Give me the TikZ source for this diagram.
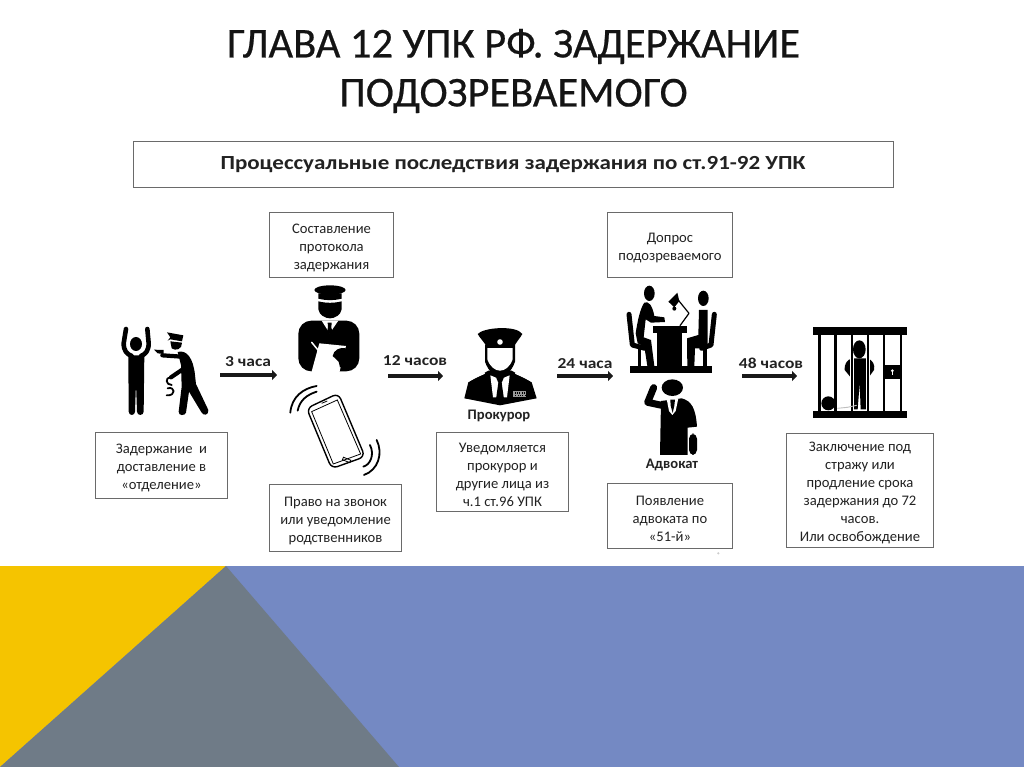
\documentclass[tikz,border=0pt]{standalone}
\usepackage{fontspec}
\setmainfont{Carlito}
\newfontfamily\titlefont{Carlito}[FakeBold=0.5]
\newfontfamily\widefont{Carlito}[FakeStretch=1.15]
\usetikzlibrary{arrows.meta}
\definecolor{ybg}{HTML}{F5C400}
\definecolor{gbg}{HTML}{6F7B87}
\definecolor{bbg}{HTML}{7489C3}
\definecolor{txt}{HTML}{222222}
\definecolor{boxc}{HTML}{6A6A6A}
\tikzset{
  x=1pt,y=-1pt,
  infobox/.style={draw=boxc,line width=1pt,fill=white,text=txt,align=center,inner sep=0pt,font=\fontsize{14.6}{18}\selectfont},
  flow/.style={line width=4.4pt,-{Triangle[length=5pt,width=10pt]},draw=black!90},
  flowlabel/.style={font=\widefont\fontsize{15.2}{18}\selectfont\bfseries,text=txt,inner sep=0pt},
  caption/.style={font=\fontsize{14.6}{18}\selectfont\bfseries,text=txt,inner sep=0pt},
  ink/.style={fill=black,draw=none},
  paper/.style={fill=white,draw=none},
  limb/.style={draw=black,line cap=round,line join=round},
  gapline/.style={draw=white,line cap=round},
  icon/.style={x=0.3333pt,y=-0.3333pt},
}
\newcommand{\bbox}[6]{\node[infobox,minimum width=#4-#2,minimum height=#5-#3,anchor=north west] (#1) at (#2,#3) {\rule{0pt}{15pt}#6};}
\begin{document}
\begin{tikzpicture}
\useasboundingbox (0,0) rectangle (1024,767);
\fill[white] (0,0) rectangle (1024,767);
% background
\fill[bbg] (0,566) rectangle (1024,767);
\fill[ybg] (0,566) -- (226,566) -- (0,767) -- cycle;
\fill[gbg] (226,566) -- (399,767) -- (0,767) -- cycle;
% title
\node[font=\titlefont\fontsize{42.5}{49}\selectfont,text=black!92,align=center,inner sep=0pt] (title) at (513.5,71) {ГЛАВА 12 УПК РФ. ЗАДЕРЖАНИЕ\\ПОДОЗРЕВАЕМОГО};
% header
\node[draw=boxc,line width=1pt,fill=white,minimum width=760,minimum height=46,inner sep=0pt,font=\widefont\fontsize{20}{22}\selectfont\bfseries,text=txt] (head) at (513,165) {\raisebox{3pt}{Процессуальные последствия задержания по ст.91-92 УПК}};
% boxes
\bbox{protocol}{269}{212}{393}{277}{Составление\\протокола\\задержания}
\bbox{detain}{95}{432}{227}{498}{Задержание\ \ и\\доставление в\\«отделение»}
\bbox{call}{269}{484}{401}{551}{Право на звонок\\или уведомление\\родственников}
\bbox{notify}{436}{432}{568}{511}{Уведомляется\\прокурор и\\другие лица из\\ч.1 ст.96 УПК}
\bbox{question}{607}{212}{732}{277}{Допрос\\подозреваемого}
\bbox{lawyer}{607}{483}{732}{548}{Появление\\адвоката по\\«51-й»}
\bbox{jailbox}{786}{433}{933}{547}{Заключение под\\стражу или\\продление срока\\задержания до 72\\часов.\\Или освобождение}
% arrows
\coordinate (a1s) at (220,375); \coordinate (a1e) at (277,375);
\coordinate (a2s) at (388,376); \coordinate (a2e) at (443,376);
\coordinate (a3s) at (557,376); \coordinate (a3e) at (613,376);
\coordinate (a4s) at (742,376); \coordinate (a4e) at (797,376);
\draw[flow] (a1s) -- (a1e);
\draw[flow] (a2s) -- (a2e);
\draw[flow] (a3s) -- (a3e);
\draw[flow] (a4s) -- (a4e);
\node[flowlabel] (l1) at (248,362) {3 часа};
\node[flowlabel] (l2) at (415,361) {12 часов};
\node[flowlabel] (l3) at (585,364) {24 часа};
\node[flowlabel] (l4) at (771,363) {48 часов};
\node[caption] (prok) at (499,416) {Прокурор};
\node[caption] (adv) at (672,465) {Адвокат};

% suspect and arresting officer
\begin{scope}[shift={(115,320)},icon]
  \fill[ink] (63,72) ellipse (18 and 21);
  \draw[limb,line width=4.6pt] (33,27) -- (26,70) .. controls (26,92) and (35,102) .. (50,108);
  \draw[limb,line width=4.6pt] (97,27) -- (101,70) .. controls (101,92) and (92,102) .. (78,108);
  \fill[ink] (40,106) -- (88,106) -- (86,275) .. controls (86,288) and (66,288) .. (66,275) -- (63,190) -- (60,275) .. controls (60,288) and (41,288) .. (41,275) -- cycle;
  % cop
  \fill[ink] (156,37) -- (205,46) -- (201,64) -- (166,58) -- (158,62) -- (166,52) -- cycle;
  \fill[ink] (166,64) -- (201,68) .. controls (202,88) and (182,94) .. (170,85) -- cycle;
  \fill[ink] (117,89) -- (146,90) -- (146,102) -- (128,100) -- (124,96) -- cycle;
  \draw[limb,line width=4.2pt] (142,106) -- (200,110);
  \fill[ink] (188,96) .. controls (215,88) and (235,115) .. (240,165) -- (243,192) -- (280,270) .. controls (282,286) and (265,288) .. (260,278) -- (222,215) -- (213,278) .. controls (210,288) and (190,288) .. (191,275) -- (200,200) -- (198,135) -- cycle;
  \draw[limb,line width=4.2pt] (212,142) -- (168,172);
  \draw[limb,line width=1.8pt] (166,172) .. controls (150,172) and (152,195) .. (170,195);
  \draw[limb,line width=1.8pt] (158,205) .. controls (180,198) and (185,228) .. (155,226);
\end{scope}

% clerk officer
\begin{scope}[shift={(290,280)},icon]
  \fill[ink] (120,30) ellipse (47 and 14);
  \fill[ink] (85,40) -- (155,40) -- (155,56) .. controls (130,62) and (110,62) .. (85,56) -- cycle;
  \fill[ink] (85,64) .. controls (110,70) and (130,70) .. (155,64) -- (155,88) .. controls (152,105) and (135,115) .. (120,115) .. controls (105,115) and (88,105) .. (85,88) -- cycle;
  \fill[ink,rounded corners=13pt] (25,122) rectangle (208,274);
  \fill[paper] (95,122) -- (145,122) -- (119,160) -- cycle;
  \fill[ink] (113,128) -- (125,128) -- (124,142) -- (127,155) -- (119,162) -- (111,155) -- (114,142) -- cycle;
  \fill[paper] (88,190) -- (168,198) -- (148,278) -- (64,278) -- cycle;
  \draw[gapline,line width=1.5pt] (65,187) -- (88,215);
  \fill[ink] (128,228) .. controls (130,210) and (152,200) .. (167,205) -- (180,255) -- (150,262) -- (146,245) -- cycle;
\end{scope}

% phone
\begin{scope}[shift={(90,200)},icon]
  \draw[line width=1.4pt,fill=white,rounded corners=6pt] (650,625) -- (745,580) -- (825,770) -- (725,806) -- cycle;
  \draw[line width=0.8pt] (665,635) -- (742,600) -- (812,762) -- (730,792) -- cycle;
  \draw[line width=0.8pt,rotate around={-22:(770,780)}] (758,776) rectangle (782,784);
  \draw[line width=0.8pt] (695,610) -- (712,603);
  \draw[limb,line width=1.8pt] (601,638) .. controls (605,590) and (640,565) .. (680,558);
  \draw[limb,line width=1.8pt] (623,632) .. controls (630,600) and (650,585) .. (680,575);
  \draw[limb,line width=1.8pt] (820,800) .. controls (840,795) and (855,765) .. (840,735);
  \draw[limb,line width=1.8pt] (822,825) .. controls (865,810) and (880,760) .. (860,720);
\end{scope}

% prosecutor
\begin{scope}[shift={(455,320)},icon]
  \fill[ink] (28,235) -- (40,187) -- (100,152) -- (170,152) -- (230,187) -- (245,235) -- (135,256) -- cycle;
  \fill[ink] (90,75) -- (180,75) -- (180,125) .. controls (170,155) and (150,170) .. (135,170) .. controls (120,170) and (100,155) .. (90,125) -- cycle;
  \fill[paper] (97,84) -- (173,84) -- (173,118) .. controls (165,140) and (150,152) .. (135,152) .. controls (120,152) and (105,140) .. (97,118) -- cycle;
  \fill[ink] (68,42) .. controls (85,22) and (185,15) .. (202,42) .. controls (195,55) and (182,68) .. (175,84) -- (97,84) .. controls (90,68) and (75,55) .. (68,42) -- cycle;
  \fill[paper] (135,66) circle (2.8pt);
  \fill[paper] (106,166) -- (135,178) -- (164,166) -- (156,232) -- (114,232) -- cycle;
  \fill[ink] (123,172) -- (147,172) -- (140,188) -- (148,245) -- (122,245) -- (130,188) -- cycle;
  \draw[gapline,line width=1.3pt] (48,178) -- (88,160);
  \draw[gapline,line width=1.3pt] (182,160) -- (222,178);
  \fill[black!40] (175,212) rectangle (212,232);
  \foreach \px in {179,186,193,200,207}{\fill[ink] (\px,216) rectangle (\px+3,222);\fill[ink] (\px+2,225) rectangle (\px+5,229);}
\end{scope}

% interrogation
\begin{scope}[shift={(615,280)},icon]
  \fill[ink] (45,258) rectangle (292,278);
  \fill[ink] (113,138) rectangle (215,160);
  \fill[ink] (125,160) rectangle (200,258);
  % left person and chair
  \fill[ink] (103,40) ellipse (16 and 23);
  \draw[limb,line width=5pt] (42,103) -- (52,195) -- (90,205);
  \fill[ink] (68,205) rectangle (78,258);
  \fill[ink] (88,68) .. controls (100,62) and (112,75) .. (118,108) -- (148,112) -- (150,126) -- (108,128) -- (92,118) -- (86,172) -- (108,180) -- (118,258) -- (97,258) -- (88,200) -- (68,190) -- (62,160) .. controls (68,120) and (76,85) .. (88,68) -- cycle;
  % right person and chair
  \fill[ink] (265,55) ellipse (16 and 23);
  \fill[ink] (252,90) -- (278,90) -- (278,200) -- (270,205) -- (240,205) -- (238,258) -- (217,258) -- (216,175) -- (250,165) -- cycle;
  \draw[limb,line width=5pt] (298,103) -- (288,195) -- (260,205);
  \fill[ink] (265,205) rectangle (275,258);
  % lamp
  \fill[ink] (160,65) -- (187,38) -- (193,63) -- (178,82) -- cycle;
  \fill[ink] (178,86) circle (2pt);
  \draw[limb,line width=1.2pt] (188,58) -- (222,100) -- (195,137);
\end{scope}

% lawyer
\begin{scope}[shift={(635,375)},icon]
  \fill[ink] (112,38) ellipse (32 and 25);
  \draw[limb,line width=7pt] (56,38) -- (38,82) -- (85,92);
  \fill[ink] (78,78) -- (140,70) .. controls (170,78) and (182,100) .. (186,155) -- (158,158) -- (158,240) -- (75,240) -- cycle;
  \fill[paper] (95,72) -- (130,70) -- (122,108) -- (112,120) -- (102,108) -- cycle;
  \fill[ink] (106,74) -- (120,74) -- (118,92) -- (113,114) -- (107,92) -- cycle;
  \fill[ink,rounded corners=5pt] (162,176) rectangle (186,240);
  % speck
  \fill[black!20] (250,535) circle (1.2pt);
\end{scope}

% jail
\begin{scope}[shift={(810,320)},icon]
  \fill[ink] (10,22) rectangle (290,44);
  \fill[ink] (10,272) rectangle (290,295);
  \foreach \bx in {28,76,222,272}{\fill[ink] (\bx-3.5,44) rectangle (\bx+3.5,272);}
  \fill[ink] (222,135) rectangle (274,178);
  \fill[paper] (247,152) circle (1.5pt);
  \fill[paper] (245.5,154) rectangle (248.5,166);
  \fill[ink] (127,115) -- (170,115) .. controls (188,118) and (196,135) .. (192,150) -- (176,172) -- (172,268) -- (152,268) -- (149,190) -- (143,268) -- (122,268) -- (122,172) -- (104,150) .. controls (102,135) and (110,118) .. (127,115) -- cycle;
  \foreach \bx in {125,174}{
    \fill[paper] (\bx-6,44) rectangle (\bx+6,272);
    \fill[ink] (\bx-3.5,44) rectangle (\bx+3.5,272);
  }
  \fill[ink] (148,88) ellipse (19 and 27);
  \fill[ink] (55,250) circle (7pt);
  \draw[draw=gray!50,line width=0.9pt] (82,265) -- (112,262) -- (140,256);
\end{scope}
\end{tikzpicture}
\end{document}
